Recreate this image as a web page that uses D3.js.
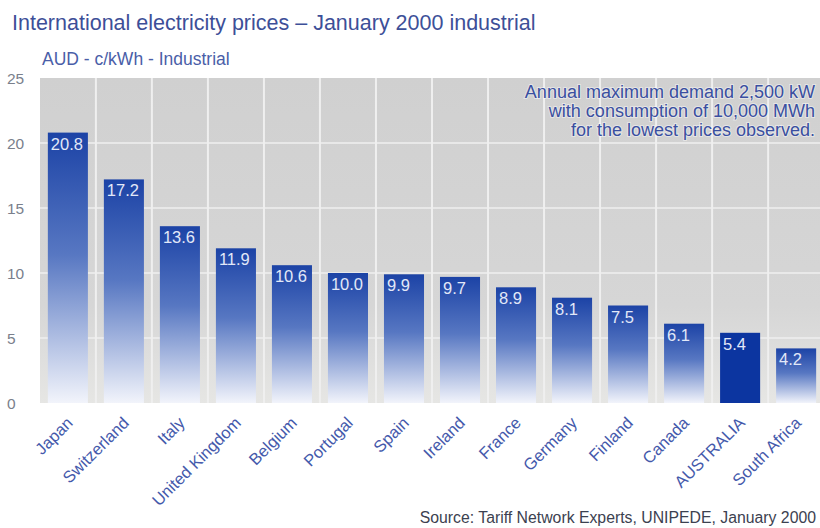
<!DOCTYPE html>
<html lang="en">
<head>
    <meta charset="UTF-8">
    <title>International electricity prices</title>
    <style>
        body { margin: 0; background: #fff; }
        svg { display: block; font-family: "Liberation Sans", Arial, sans-serif; }
    </style>
</head>
<body>
    <div class="chart"></div>
    <script src="https://cdn.jsdelivr.net/npm/d3@7/dist/d3.min.js"></script>
    <script>
    "use strict";

    var countries = ["Japan", "Switzerland", "Italy", "United Kingdom", "Belgium", "Portugal",
        "Spain", "Ireland", "France", "Germany", "Finland", "Canada", "AUSTRALIA", "South Africa"];
    var prices = [20.8, 17.2, 13.6, 11.9, 10.6, 10.0, 9.9, 9.7, 8.9, 8.1, 7.5, 6.1, 5.4, 4.2];
    var priceLabels = ["20.8", "17.2", "13.6", "11.9", "10.6", "10.0", "9.9", "9.7", "8.9", "8.1", "7.5", "6.1", "5.4", "4.2"];
    var yTicks = [0, 5, 10, 15, 20, 25];
    var highlight = "AUSTRALIA";
    var noteLines = ["Annual maximum demand 2,500 kW", "with consumption of 10,000 MWh", "for the lowest prices observed."];

    var data = countries.map(function(c, i) { return {country: c, price: prices[i], label: priceLabels[i]}; });

    var W = 820, H = 528;
    var plot = {left: 40, right: 824, top: 78, bottom: 403};

    var svg = d3.select(".chart").append("svg")
        .attr("width", W)
        .attr("height", H);

    var defs = svg.append("defs");
    var barGrad = defs.append("linearGradient")
        .attr("id", "barGrad").attr("x1", 0).attr("y1", 0).attr("x2", 0).attr("y2", 1);
    barGrad.append("stop").attr("offset", "0%").attr("stop-color", "#1c43a6");
    barGrad.append("stop").attr("offset", "45%").attr("stop-color", "#5777c2");
    barGrad.append("stop").attr("offset", "100%").attr("stop-color", "#f2f4fb");

    var bgGrad = defs.append("linearGradient")
        .attr("id", "bgGrad").attr("x1", 0).attr("y1", 0).attr("x2", 0).attr("y2", 1);
    bgGrad.append("stop").attr("offset", "0%").attr("stop-color", "#d0d0d0");
    bgGrad.append("stop").attr("offset", "70%").attr("stop-color", "#d6d6d6");
    bgGrad.append("stop").attr("offset", "100%").attr("stop-color", "#e6e6e4");

    // scales
    var x = d3.scaleBand()
        .domain(countries)
        .range([plot.left, plot.right])
        .paddingInner(0.285)
        .paddingOuter(0.14);

    var y = d3.scaleLinear()
        .domain([0, 25])
        .range([plot.bottom, plot.top]);

    var gap = (x.step() - x.bandwidth()) / 2;

    // plot background
    svg.append("rect")
        .attr("x", plot.left).attr("y", plot.top)
        .attr("width", plot.right - plot.left).attr("height", plot.bottom - plot.top)
        .attr("fill", "url(#bgGrad)");

    // vertical white separators between categories
    svg.selectAll("line.vsep").data(countries.slice(1))
        .enter().append("line")
        .attr("class", "vsep")
        .attr("x1", function(d) { return x(d) - gap; })
        .attr("x2", function(d) { return x(d) - gap; })
        .attr("y1", plot.top).attr("y2", plot.bottom)
        .attr("stroke", "#efefef").attr("stroke-width", 2);

    // horizontal gridlines
    svg.selectAll("line.hgrid").data(yTicks.filter(function(t) { return t > 0 && t < 25; }))
        .enter().append("line")
        .attr("class", "hgrid")
        .attr("x1", plot.left).attr("x2", plot.right)
        .attr("y1", function(d) { return y(d); }).attr("y2", function(d) { return y(d); })
        .attr("stroke", "#efefef").attr("stroke-width", 1.5);

    // bars
    svg.selectAll("rect.bar").data(data)
        .enter().append("rect")
        .attr("class", "bar")
        .attr("x", function(d) { return x(d.country); })
        .attr("y", function(d) { return y(d.price); })
        .attr("width", x.bandwidth())
        .attr("height", function(d) { return y(0) - y(d.price); })
        .attr("fill", function(d) { return d.country === highlight ? "#0c35a0" : "url(#barGrad)"; });

    // value labels
    svg.selectAll("text.val").data(data)
        .enter().append("text")
        .attr("class", "val")
        .attr("x", function(d) { return x(d.country) + 3; })
        .attr("y", function(d) { return y(d.price) + 17; })
        .attr("fill", "#e2e8f8")
        .attr("font-size", 16.5)
        .text(function(d) { return d.label; });

    // y axis labels
    svg.selectAll("text.ytick").data(yTicks)
        .enter().append("text")
        .attr("class", "ytick")
        .attr("x", 7)
        .attr("y", function(d) { return y(d) + 5.5; })
        .attr("fill", "#7a7f8c")
        .attr("font-size", 15.5)
        .text(function(d) { return d; });

    // x labels rotated
    svg.selectAll("text.xlab").data(countries)
        .enter().append("text")
        .attr("class", "xlab")
        .attr("transform", function(d) {
            return "translate(" + (x(d) + x.bandwidth() / 2 + 6) + "," + (plot.bottom + 21) + ") rotate(-45)";
        })
        .attr("text-anchor", "end")
        .attr("fill", "#4459ab")
        .attr("font-size", 16.5)
        .text(function(d) { return d; });

    // titles
    svg.append("text")
        .attr("x", 12).attr("y", 30)
        .attr("fill", "#3d4f98")
        .attr("font-size", 21.5)
        .text("International electricity prices \u2013 January 2000 industrial");

    svg.append("text")
        .attr("x", 42).attr("y", 65)
        .attr("fill", "#4a5ea8")
        .attr("font-size", 17.5)
        .text("AUD - c/kWh - Industrial");

    // annotation
    svg.selectAll("text.note").data(noteLines)
        .enter().append("text")
        .attr("class", "note")
        .attr("x", 815)
        .attr("y", function(d, i) { return 98 + i * 19; })
        .attr("text-anchor", "end")
        .attr("fill", "#3a4fa0")
        .attr("stroke", "#ffffff")
        .attr("stroke-opacity", 0.45)
        .attr("stroke-width", 2)
        .attr("paint-order", "stroke")
        .attr("font-size", 18)
        .text(function(d) { return d; });

    // source
    svg.append("text")
        .attr("x", 816).attr("y", 523)
        .attr("text-anchor", "end")
        .attr("fill", "#3c4150")
        .attr("font-size", 15.8)
        .text("Source: Tariff Network Experts, UNIPEDE, January 2000");
    </script>
</body>
</html>
